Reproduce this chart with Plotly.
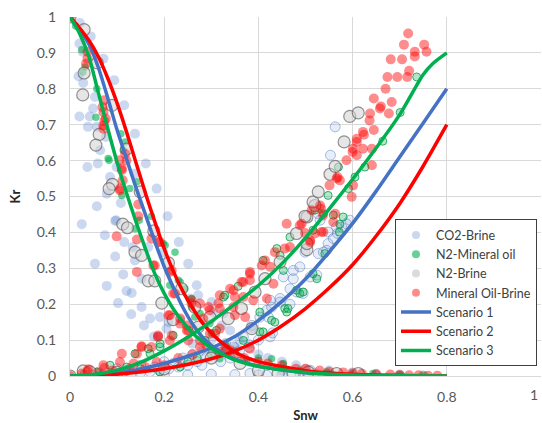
import plotly.graph_objects as go

# ---- CO2-Brine measurements (Snw, Kr) ----
co2_w_snw = [0.021, 0.044, 0.02, 0.027, 0.071, 0.018, 0.028, 0.094, 0.053, 0.115, 0.049, 0.02, 0.042, 0.038,
             0.057, 0.138, 0.076, 0.064, 0.037, 0.059, 0.099, 0.161, 0.138, 0.085, 0.184, 0.078, 0.057, 0.108,
             0.207, 0.098, 0.025, 0.096, 0.074, 0.115, 0.231, 0.166, 0.133, 0.198, 0.096, 0.138, 0.053, 0.251,
             0.113, 0.152, 0.078, 0.269, 0.12, 0.131, 0.272, 0.255, 0.102, 0.301, 0.152, 0.304, 0.326, 0.13,
             0.17, 0.191, 0.234, 0.209, 0.157, 0.322, 0.205, 0.34, 0.187, 0.178, 0.36, 0.38, 0.3, 0.35, 0.4,
             0.42, 0.45, 0.38, 0.48, 0.5, 0.55, 0.6, 0.65, 0.7, 0.45, 0.52, 0.386, 0.26, 0.28]
co2_w_kr = [0.983, 0.946, 0.926, 0.903, 0.884, 0.835, 0.816, 0.824, 0.777, 0.754, 0.745, 0.723, 0.723, 0.694,
            0.694, 0.675, 0.666, 0.629, 0.582, 0.592, 0.582, 0.592, 0.564, 0.554, 0.522, 0.508, 0.473, 0.482,
            0.445, 0.434, 0.423, 0.432, 0.392, 0.373, 0.373, 0.359, 0.359, 0.345, 0.333, 0.322, 0.313, 0.313,
            0.283, 0.271, 0.251, 0.253, 0.237, 0.231, 0.225, 0.216, 0.203, 0.206, 0.192, 0.178, 0.174, 0.172,
            0.16, 0.164, 0.155, 0.15, 0.141, 0.141, 0.132, 0.127, 0.109, 0.11, 0.1, 0.09, 0.1, 0.08, 0.06,
            0.05, 0.04, 0.04, 0.03, 0.02, 0.015, 0.01, 0.006, 0.004, 0.015, 0.008, 0.133, 0.09, 0.07]

co2_nw_snw = [0.03, 0.05, 0.07, 0.09, 0.11, 0.13, 0.15, 0.17, 0.19, 0.21, 0.23, 0.25, 0.27, 0.29, 0.31, 0.318,
              0.347, 0.33, 0.368, 0.386, 0.403, 0.425, 0.418, 0.428, 0.421, 0.425, 0.446, 0.446, 0.467, 0.467,
              0.453, 0.481, 0.495, 0.474, 0.474, 0.488, 0.51, 0.524, 0.527, 0.545, 0.499, 0.538, 0.548, 0.559,
              0.568, 0.577, 0.587, 0.594, 0.548, 0.566, 0.527, 0.531, 0.553, 0.563, 0.1, 0.15, 0.2, 0.24, 0.28,
              0.26, 0.32, 0.34, 0.36, 0.38, 0.4, 0.43, 0.06, 0.12, 0.18, 0.22, 0.2, 0.25, 0.3, 0.35, 0.4, 0.45,
              0.5, 0.55, 0.6, 0.65, 0.7, 0.75, 0.382, 0.418, 0.488, 0.51]
co2_nw_kr = [0.0, 0.002, 0.003, 0.005, 0.004, 0.008, 0.01, 0.012, 0.015, 0.02, 0.025, 0.03, 0.04, 0.053, 0.06,
             0.072, 0.081, 0.09, 0.109, 0.141, 0.164, 0.109, 0.183, 0.192, 0.164, 0.211, 0.206, 0.216, 0.2, 0.243,
             0.276, 0.234, 0.23, 0.271, 0.294, 0.304, 0.276, 0.281, 0.341, 0.35, 0.345, 0.345, 0.369, 0.383,
             0.397, 0.415, 0.424, 0.434, 0.401, 0.415, 0.452, 0.434, 0.615, 0.694, 0.02, 0.03, 0.04, 0.05, 0.03,
             0.06, 0.04, 0.05, 0.07, 0.08, 0.1, 0.12, 0.01, 0.015, 0.025, 0.035, 0.002, 0.003, 0.005, 0.004,
             0.003, 0.002, 0.003, 0.002, 0.001, 0.001, 0.0, 0.0, 0.007, 0.002, 0.007, 0.016]

# ---- N2-Mineral oil measurements ----
n2m_w_snw = [0.012, 0.025, 0.032, 0.027, 0.057, 0.055, 0.108, 0.117, 0.113, 0.081, 0.083, 0.142, 0.127, 0.11,
             0.173, 0.147, 0.138, 0.198, 0.202, 0.223, 0.23, 0.234, 0.244, 0.212, 0.258, 0.258, 0.265, 0.276,
             0.297, 0.3, 0.318, 0.33, 0.35, 0.375, 0.4, 0.428, 0.453, 0.488, 0.545, 0.601, 0.643, 0.7, 0.75]
n2m_w_kr = [0.975, 0.909, 0.861, 0.847, 0.8, 0.721, 0.675, 0.652, 0.629, 0.606, 0.601, 0.541, 0.522, 0.503,
            0.445, 0.434, 0.41, 0.369, 0.364, 0.345, 0.267, 0.262, 0.243, 0.253, 0.216, 0.192, 0.164, 0.174,
            0.146, 0.12, 0.048, 0.09, 0.07, 0.044, 0.05, 0.048, 0.035, 0.016, 0.011, 0.007, 0.007, 0.003, 0.002]

n2m_nw_snw = [0.736, 0.701, 0.664, 0.626, 0.605, 0.591, 0.57, 0.548, 0.58, 0.573, 0.572, 0.538, 0.559, 0.52,
              0.516, 0.541, 0.516, 0.524, 0.488, 0.495, 0.481, 0.456, 0.46, 0.463, 0.428, 0.435, 0.41, 0.403,
              0.403, 0.368, 0.439, 0.467, 0.453, 0.446, 0.41, 0.357, 0.326, 0.329, 0.311, 0.287, 0.219, 0.191,
              0.191, 0.17, 0.166, 0.138, 0.12, 0.085, 0.057, 0.092, 0.191, 0.234, 0.25, 0.27, 0.3, 0.33, 0.03, 0.15]
n2m_nw_kr = [0.833, 0.734, 0.654, 0.582, 0.554, 0.522, 0.582, 0.503, 0.443, 0.423, 0.401, 0.452, 0.448, 0.462,
             0.406, 0.341, 0.285, 0.271, 0.23, 0.234, 0.239, 0.188, 0.178, 0.188, 0.155, 0.15, 0.123, 0.178,
             0.123, 0.099, 0.355, 0.387, 0.294, 0.336, 0.322, 0.25, 0.22, 0.225, 0.127, 0.099, 0.113, 0.09,
             0.081, 0.062, 0.076, 0.062, 0.025, 0.03, 0.011, 0.007, 0.011, 0.025, 0.04, 0.05, 0.06, 0.07, 0.005, 0.02]

# ---- N2-Brine measurements ----
n2b_w_snw = [0.0, 0.03, 0.058, 0.03, 0.027, 0.089, 0.062, 0.055, 0.12, 0.149, 0.09, 0.083, 0.112, 0.122, 0.178,
             0.138, 0.152, 0.166, 0.18, 0.195, 0.209, 0.219, 0.237, 0.265, 0.272, 0.297, 0.361, 0.442, 0.474,
             0.506, 0.566, 0.612, 0.4]
n2b_w_kr = [1.0, 0.965, 0.872, 0.844, 0.783, 0.754, 0.673, 0.643, 0.632, 0.513, 0.534, 0.522, 0.423, 0.413, 0.404,
            0.345, 0.336, 0.265, 0.265, 0.203, 0.315, 0.157, 0.243, 0.192, 0.136, 0.164, 0.035, 0.007, 0.007,
            0.011, 0.007, 0.007, 0.015]

n2b_nw_snw = [0.0, 0.028, 0.042, 0.1, 0.2, 0.336, 0.364, 0.386, 0.393, 0.414, 0.446, 0.481, 0.503, 0.503,
              0.499, 0.52, 0.516, 0.527, 0.552, 0.563, 0.582, 0.594, 0.612, 0.503, 0.3]
n2b_nw_kr = [0.0, 0.014, 0.012, 0.01, 0.02, 0.16, 0.188, 0.132, 0.234, 0.271, 0.318, 0.397, 0.352, 0.443,
             0.445, 0.475, 0.485, 0.513, 0.562, 0.584, 0.652, 0.723, 0.733, 0.369, 0.05]

# ---- Mineral Oil-Brine measurements ----
mob_w_snw = [0.0, 0.037, 0.037, 0.034, 0.072, 0.069, 0.071, 0.076, 0.073, 0.071, 0.071, 0.117, 0.12, 0.105,
             0.11, 0.11, 0.112, 0.106, 0.106, 0.145, 0.145, 0.099, 0.173, 0.142, 0.191, 0.187, 0.142, 0.18,
             0.177, 0.216, 0.212, 0.223, 0.219, 0.258, 0.258, 0.276, 0.212, 0.234, 0.283, 0.248, 0.234, 0.251,
             0.308, 0.37, 0.4, 0.42, 0.45, 0.48, 0.5, 0.53, 0.55, 0.58, 0.6, 0.62, 0.65, 0.68, 0.7, 0.72, 0.74,
             0.76, 0.78, 0.33, 0.35]
mob_w_kr = [1.0, 0.903, 0.884, 0.87, 0.768, 0.749, 0.735, 0.717, 0.71, 0.698, 0.689, 0.619, 0.6, 0.601,
            0.578, 0.573, 0.545, 0.522, 0.517, 0.478, 0.445, 0.389, 0.383, 0.38, 0.373, 0.373, 0.29, 0.308,
            0.308, 0.294, 0.29, 0.23, 0.23, 0.211, 0.202, 0.202, 0.169, 0.16, 0.16, 0.141, 0.146, 0.127,
            0.118, 0.05, 0.04, 0.035, 0.03, 0.02, 0.02, 0.015, 0.012, 0.01, 0.008, 0.006, 0.005, 0.004, 0.003,
            0.002, 0.002, 0.001, 0.001, 0.08, 0.06]

mob_nw_snw = [0.0, 0.025, 0.039, 0.037, 0.071, 0.073, 0.106, 0.11, 0.127, 0.135, 0.142, 0.152, 0.152, 0.173,
              0.184, 0.187, 0.187, 0.209, 0.212, 0.216, 0.248, 0.251, 0.276, 0.276, 0.297, 0.297, 0.294, 0.318,
              0.318, 0.318, 0.315, 0.318, 0.34, 0.34, 0.347, 0.347, 0.35, 0.35, 0.364, 0.368, 0.368, 0.372,
              0.382, 0.382, 0.382, 0.382, 0.389, 0.407, 0.414, 0.418, 0.425, 0.432, 0.435, 0.456, 0.46, 0.467,
              0.488, 0.492, 0.499, 0.51, 0.51, 0.513, 0.52, 0.531, 0.533, 0.534, 0.537, 0.538, 0.559, 0.563,
              0.551, 0.566, 0.568, 0.573, 0.587, 0.598, 0.601, 0.6, 0.601, 0.609, 0.609, 0.609, 0.622, 0.622,
              0.624, 0.636, 0.637, 0.641, 0.641, 0.645, 0.645, 0.658, 0.66, 0.67, 0.674, 0.677, 0.683, 0.681,
              0.695, 0.705, 0.709, 0.716, 0.72, 0.718, 0.732, 0.732, 0.752, 0.757, 0.06, 0.09, 0.16, 0.2, 0.23,
              0.26, 0.29]
mob_nw_kr = [0.0, 0.007, 0.019, 0.013, 0.03, 0.022, 0.039, 0.062, 0.02, 0.035, 0.062, 0.081, 0.083, 0.081,
             0.039, 0.113, 0.109, 0.169, 0.099, 0.113, 0.127, 0.099, 0.081, 0.099, 0.118, 0.183, 0.192, 0.188,
             0.132, 0.067, 0.202, 0.225, 0.243, 0.072, 0.239, 0.192, 0.22, 0.169, 0.262, 0.262, 0.22, 0.164,
             0.29, 0.285, 0.267, 0.076, 0.211, 0.308, 0.322, 0.216, 0.304, 0.257, 0.345, 0.355, 0.424, 0.359,
             0.42, 0.424, 0.398, 0.373, 0.378, 0.462, 0.397, 0.475, 0.466, 0.401, 0.447, 0.401, 0.429, 0.452,
             0.531, 0.55, 0.554, 0.545, 0.601, 0.499, 0.531, 0.624, 0.633, 0.615, 0.652, 0.661, 0.633, 0.68,
             0.672, 0.712, 0.731, 0.633, 0.587, 0.685, 0.773, 0.745, 0.751, 0.8, 0.833, 0.731, 0.763, 0.882,
             0.833, 0.882, 0.923, 0.833, 0.85, 0.954, 0.903, 0.89, 0.923, 0.903, 0.008, 0.015, 0.025, 0.03, 0.05,
             0.06, 0.085]

# ---- Model curves: wetting (falling) and non-wetting (rising) ----
s1_w_snw = [0, 0.02, 0.04, 0.06, 0.08, 0.1, 0.12, 0.14, 0.16, 0.18, 0.2, 0.22, 0.24, 0.26, 0.28, 0.3, 0.33, 0.36,
            0.4, 0.5, 0.6, 0.7, 0.8]
s1_w_kr = [1, 0.965, 0.925, 0.86, 0.775, 0.685, 0.605, 0.525, 0.45, 0.375, 0.305, 0.245, 0.19, 0.145, 0.11, 0.085,
           0.06, 0.042, 0.027, 0.009, 0.003, 0.001, 0]
s2_w_snw = [0, 0.02, 0.04, 0.06, 0.08, 0.1, 0.12, 0.14, 0.16, 0.18, 0.2, 0.22, 0.24, 0.26, 0.28, 0.3, 0.33, 0.36,
            0.4, 0.5, 0.6, 0.7, 0.8]
s2_w_kr = [1, 0.97, 0.935, 0.89, 0.83, 0.76, 0.68, 0.595, 0.51, 0.43, 0.355, 0.29, 0.235, 0.19, 0.15, 0.12, 0.085,
           0.06, 0.04, 0.015, 0.005, 0.0015, 0]
s3_w_snw = [0, 0.02, 0.04, 0.06, 0.08, 0.1, 0.12, 0.14, 0.16, 0.18, 0.2, 0.22, 0.24, 0.26, 0.28, 0.3, 0.33, 0.36,
            0.4, 0.5, 0.6, 0.7, 0.8]
s3_w_kr = [1, 0.955, 0.89, 0.79, 0.69, 0.595, 0.51, 0.43, 0.355, 0.285, 0.23, 0.185, 0.15, 0.12, 0.097, 0.078,
           0.056, 0.04, 0.027, 0.01, 0.003, 0.001, 0]

s1_nw_snw = [0, 0.1, 0.2, 0.25, 0.3, 0.35, 0.4, 0.45, 0.5, 0.55, 0.6, 0.65, 0.7, 0.75, 0.8]
s1_nw_kr = [0, 0.008, 0.035, 0.055, 0.078, 0.11, 0.155, 0.208, 0.27, 0.345, 0.425, 0.515, 0.61, 0.705, 0.8]
s2_nw_snw = [0, 0.1, 0.2, 0.3, 0.35, 0.4, 0.45, 0.5, 0.55, 0.6, 0.65, 0.7, 0.75, 0.8]
s2_nw_kr = [0, 0.005, 0.02, 0.048, 0.07, 0.1, 0.14, 0.188, 0.245, 0.31, 0.39, 0.48, 0.585, 0.7]
s3_nw_snw = [0, 0.05, 0.1, 0.15, 0.2, 0.25, 0.3, 0.35, 0.4, 0.45, 0.5, 0.55, 0.6, 0.65, 0.7, 0.75, 0.77, 0.8]
s3_nw_kr = [0, 0.004, 0.016, 0.038, 0.07, 0.108, 0.152, 0.2, 0.252, 0.313, 0.385, 0.465, 0.548, 0.635, 0.728, 0.84,
            0.87, 0.9]

x_ticks = [0, 0.2, 0.4, 0.6, 0.8]
x_tick_text = ["0", "0.2", "0.4", "0.6", "0.8"]

BLUE = "#4472C4"
RED = "#FF0000"
GREEN = "#00B050"

fig = go.Figure()


def add_points(x, y, name, marker):
    fig.add_trace(go.Scatter(x=x, y=y, mode="markers", name=name, legendgroup=name,
                             showlegend=False, marker=marker, hoverinfo="skip"))


def add_key(name, color):
    # legend entry only: small plain dot in the series colour
    fig.add_trace(go.Scatter(x=[None], y=[None], mode="markers", name=name, legendgroup=name,
                             marker=dict(size=8, color=color, line=dict(width=0))))


# CO2-Brine
add_points(co2_w_snw, co2_w_kr, "CO2-Brine",
           dict(size=10, color="rgba(68,114,196,0.28)", line=dict(width=0)))
add_points(co2_nw_snw, co2_nw_kr, "CO2-Brine",
           dict(size=10, color="rgba(68,114,196,0.12)", line=dict(width=1, color="rgba(68,114,196,0.45)")))
# N2-Mineral oil
add_points(n2m_w_snw, n2m_w_kr, "N2-Mineral oil",
           dict(size=7.5, color="rgba(0,176,80,0.6)", line=dict(width=0)))
add_points(n2m_nw_snw, n2m_nw_kr, "N2-Mineral oil",
           dict(size=8, color="rgba(0,176,80,0.3)", line=dict(width=1, color="rgba(0,150,70,0.75)")))
# N2-Brine
add_points(n2b_w_snw, n2b_w_kr, "N2-Brine",
           dict(size=12, color="rgba(210,210,210,0.55)", line=dict(width=1.2, color="rgba(90,90,90,0.65)")))
add_points(n2b_nw_snw, n2b_nw_kr, "N2-Brine",
           dict(size=12, color="rgba(210,210,210,0.55)", line=dict(width=1.2, color="rgba(90,90,90,0.65)")))
# Mineral Oil-Brine
add_points(mob_w_snw, mob_w_kr, "Mineral Oil-Brine",
           dict(size=10, color="rgba(255,0,0,0.45)", line=dict(width=0)))
add_points(mob_nw_snw, mob_nw_kr, "Mineral Oil-Brine",
           dict(size=10, color="rgba(255,0,0,0.45)", line=dict(width=0)))

add_key("CO2-Brine", "rgba(68,114,196,0.28)")
add_key("N2-Mineral oil", "rgba(0,176,80,0.6)")
add_key("N2-Brine", "rgba(190,190,190,0.55)")
add_key("Mineral Oil-Brine", "rgba(255,0,0,0.45)")


def add_curve(x, y, name, color, show):
    fig.add_trace(go.Scatter(x=x, y=y, mode="lines", name=name, legendgroup=name, showlegend=show,
                             line=dict(color=color, width=3.5, shape="spline", smoothing=0.7),
                             hoverinfo="skip"))


add_curve(s1_w_snw, s1_w_kr, "Scenario 1", BLUE, True)
add_curve(s1_nw_snw, s1_nw_kr, "Scenario 1", BLUE, False)
add_curve(s2_w_snw, s2_w_kr, "Scenario 2", RED, True)
add_curve(s2_nw_snw, s2_nw_kr, "Scenario 2", RED, False)
add_curve(s3_w_snw, s3_w_kr, "Scenario 3", GREEN, True)
add_curve(s3_nw_snw, s3_nw_kr, "Scenario 3", GREEN, False)

FONT = "Lato, 'Open Sans', sans-serif"
TICK_FONT = dict(family=FONT, size=14, color="#595959")

fig.update_layout(
    width=542, height=423,
    margin=dict(l=70, r=1, t=17, b=47),
    paper_bgcolor="white", plot_bgcolor="white",
    font=dict(family=FONT, color="#404040"),
    legend=dict(x=0.69, y=0.436, xanchor="left", yanchor="top",
                bgcolor="white", bordercolor="#404040", borderwidth=1,
                font=dict(family=FONT, size=12.5, color="#404040"),
                itemwidth=30, tracegroupgap=0),
    xaxis=dict(range=[0, 1], tickvals=x_ticks, ticktext=x_tick_text, showgrid=True,
               gridcolor="#D9D9D9", gridwidth=1, showline=True, linecolor="#D9D9D9", zeroline=False,
               tickfont=TICK_FONT, ticks="", ticklabelstandoff=8,
               title=dict(text="<b>Snw</b>", font=dict(family=FONT, size=13, color="#262626"), standoff=8)),
    yaxis=dict(range=[0, 1], dtick=0.1, showgrid=True, gridcolor="#D9D9D9", gridwidth=1,
               showline=True, linecolor="#D9D9D9", zeroline=False, tickfont=TICK_FONT, ticks="",
               ticklabelstandoff=10,
               title=dict(text="<b>Kr</b>", font=dict(family=FONT, size=13, color="#262626"), standoff=13)),
    annotations=[dict(text="1", x=1, y=0, xref="x", yref="y", xanchor="right", yanchor="top",
                      xshift=-1, yshift=-8, showarrow=False, font=TICK_FONT)],
)

fig.write_html("out.html")
